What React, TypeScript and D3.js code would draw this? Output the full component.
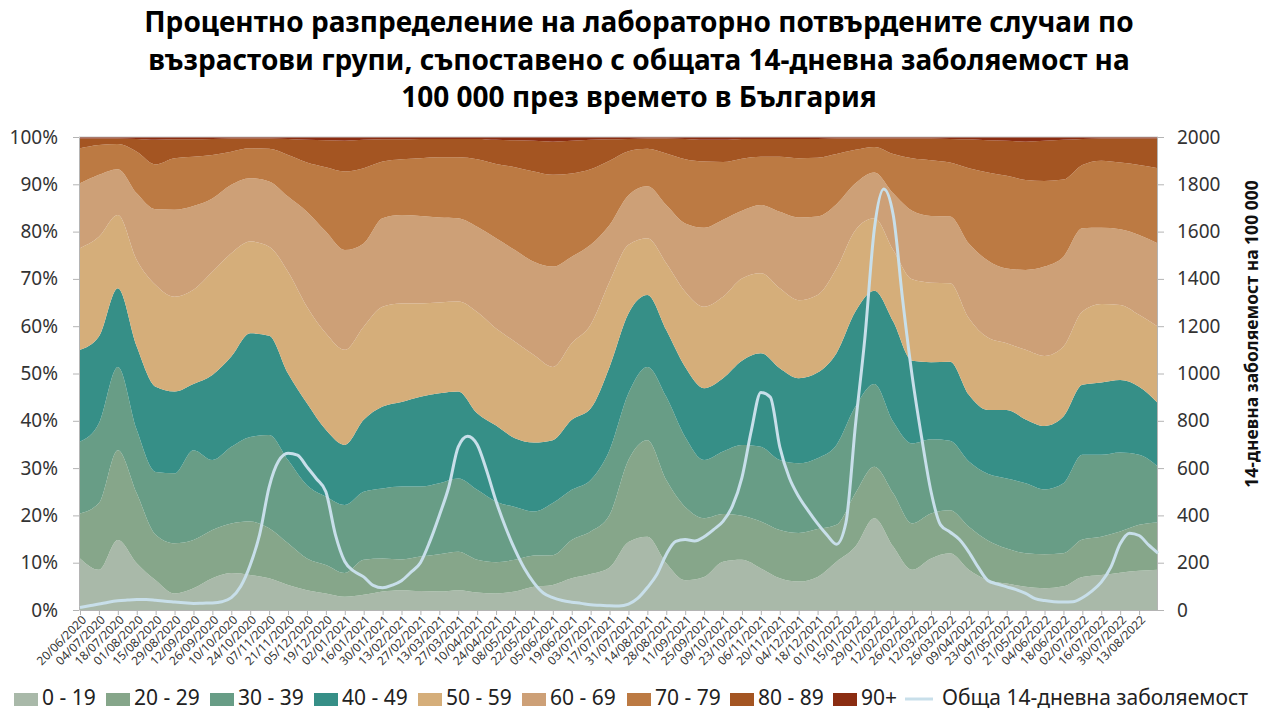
import React, { useEffect, useRef } from 'react'
import * as d3 from 'd3'

const ageGroups = ['0 - 19', '20 - 29', '30 - 39', '40 - 49', '50 - 59', '60 - 69', '70 - 79', '80 - 89', '90+']
const groupColors = ['#a9b9a9', '#86a68a', '#689d86', '#368f87', '#d5ae7a', '#cda077', '#bc7a43', '#a45522', '#8b2d12']
const lineColor = '#c8dfea'
const lineLabel = 'Обща 14-дневна заболяемост'

const titleLines = [
    'Процентно разпределение на лабораторно потвърдените случаи по',
    'възрастови групи, съпоставено с общата 14-дневна заболяемост на',
    '100 000 през времето в България'
]
const rightTitle = '14-дневна заболяемост на 100 000'

// share of confirmed cases (%) for each age group, one value every 14 days from 20/06/2020
const age0_19 = [10.9, 8.5, 14.8, 9.9, 6.3, 3.5, 4.6, 6.7, 7.8, 7.4, 6.7, 5.3, 4.2, 3.5, 2.8, 3.2, 3.9, 4.2, 4.0, 3.9,
    4.2, 3.7, 3.5, 3.9, 4.9, 5.3, 6.7, 7.6, 9.0, 14.4, 15.5, 9.9, 6.3, 7.0, 10.2, 10.6, 8.8, 6.7, 6.0, 7.0,
    10.2, 13.4, 19.4, 13.4, 8.5, 10.9, 12.0, 8.5, 6.3, 5.6, 4.9, 4.6, 5.0, 7.0, 7.4, 7.9, 8.3, 8.5]
const age20_29 = [9.5, 14.1, 19.0, 14.8, 9.6, 10.6, 10.2, 10.2, 10.5, 11.3, 10.6, 8.8, 6.7, 6.0, 5.0, 7.4, 7.0, 6.5, 7.3, 7.9,
    8.1, 6.9, 6.6, 6.7, 6.6, 6.3, 8.1, 9.0, 11.1, 17.3, 20.4, 17.6, 15.5, 12.4, 10.1, 9.3, 9.9, 10.2, 10.3, 10.1,
    7.8, 11.3, 10.9, 11.3, 9.8, 9.5, 9.1, 9.1, 8.4, 7.4, 7.1, 7.2, 7.0, 7.9, 8.1, 8.7, 9.7, 10.0]
const age30_39 = [15.2, 16.9, 17.6, 13.4, 13.3, 14.8, 19.0, 14.8, 16.2, 17.9, 19.7, 17.6, 15.5, 14.5, 14.4, 14.4, 14.8, 15.4, 14.8, 15.0,
    15.5, 14.8, 12.8, 11.2, 9.3, 11.0, 10.6, 10.9, 13.7, 14.1, 15.5, 17.6, 14.8, 12.3, 13.2, 15.0, 15.8, 14.8, 14.7, 15.0,
    16.9, 18.3, 17.5, 15.1, 16.9, 15.7, 14.7, 13.8, 14.1, 14.8, 14.8, 13.7, 14.8, 17.9, 17.3, 16.7, 14.8, 11.8]
const age40_49 = [19.4, 18.3, 16.6, 17.6, 18.0, 17.3, 14.0, 18.0, 19.1, 21.9, 21.0, 18.3, 17.3, 14.1, 12.7, 15.2, 17.3, 17.9, 19.0, 19.0,
    18.4, 16.2, 16.1, 14.5, 14.6, 13.3, 14.8, 15.1, 17.6, 16.9, 15.2, 14.1, 14.8, 15.2, 15.5, 17.8, 19.8, 19.4, 18.0, 18.1,
    19.4, 20.1, 19.7, 21.2, 17.5, 16.3, 16.7, 14.1, 13.5, 14.5, 13.5, 13.4, 14.1, 14.8, 15.3, 15.3, 14.4, 13.4]
const age50_59 = [21.5, 21.1, 15.5, 18.3, 21.5, 20.0, 19.9, 21.8, 21.8, 19.4, 18.8, 21.5, 20.4, 20.4, 20.1, 19.7, 21.1, 20.8, 19.7, 19.2,
    19.0, 21.4, 20.5, 20.4, 18.5, 15.5, 16.2, 17.7, 18.0, 14.5, 12.0, 14.1, 15.9, 17.2, 17.2, 17.4, 16.9, 16.9, 16.5, 16.4,
    17.9, 17.2, 15.3, 15.1, 17.2, 16.8, 16.6, 16.2, 15.3, 14.1, 14.7, 14.8, 14.8, 15.5, 16.6, 15.9, 15.2, 16.2]
const age60_69 = [13.7, 13.1, 9.7, 14.1, 16.0, 18.4, 17.7, 15.5, 14.5, 13.4, 13.8, 15.9, 20.1, 21.5, 21.1, 17.6, 18.7, 18.7, 18.5, 18.0,
    17.6, 18.0, 19.1, 19.4, 19.7, 21.2, 18.3, 16.9, 12.0, 10.5, 11.0, 12.3, 14.4, 16.7, 16.3, 14.3, 14.4, 16.2, 17.5, 16.6,
    13.6, 9.9, 9.7, 12.0, 14.5, 14.1, 14.1, 15.8, 16.3, 15.8, 16.9, 18.9, 19.0, 17.6, 16.1, 16.0, 16.9, 17.6]
const age70_79 = [7.4, 6.3, 5.3, 8.8, 9.5, 10.9, 10.4, 9.2, 7.0, 6.3, 6.9, 8.8, 10.4, 13.6, 16.6, 15.9, 12.0, 11.8, 12.2, 12.7,
    12.9, 14.3, 15.7, 17.5, 19.1, 19.4, 17.6, 16.0, 13.6, 9.3, 7.9, 10.9, 13.6, 14.0, 12.2, 11.0, 10.2, 11.6, 12.5, 12.4,
    10.6, 7.1, 5.4, 8.3, 11.1, 11.8, 11.4, 15.9, 18.6, 19.6, 19.0, 18.1, 16.3, 13.4, 14.2, 14.1, 14.8, 15.9]
const age80_89 = [2.1, 1.4, 1.2, 2.7, 5.2, 4.0, 3.7, 3.4, 2.8, 2.1, 2.2, 3.4, 4.8, 5.7, 6.5, 6.0, 4.7, 4.2, 4.1, 3.9,
    3.9, 4.3, 5.1, 5.7, 6.5, 7.0, 6.9, 6.2, 4.5, 2.6, 2.2, 3.2, 4.3, 4.6, 4.7, 4.2, 3.8, 3.8, 4.1, 4.0,
    3.3, 2.4, 1.8, 3.3, 4.2, 4.6, 5.0, 6.1, 6.8, 7.4, 8.1, 8.5, 8.4, 5.5, 4.7, 5.1, 5.6, 6.3]
const age90plus = [0.3, 0.3, 0.3, 0.4, 0.6, 0.5, 0.5, 0.4, 0.3, 0.3, 0.3, 0.4, 0.6, 0.7, 0.8, 0.6, 0.5, 0.5, 0.4, 0.4,
    0.4, 0.4, 0.6, 0.7, 0.8, 1.0, 0.8, 0.6, 0.5, 0.4, 0.3, 0.3, 0.4, 0.6, 0.6, 0.4, 0.4, 0.4, 0.4, 0.4,
    0.3, 0.3, 0.3, 0.3, 0.3, 0.3, 0.4, 0.5, 0.7, 0.8, 1.0, 0.8, 0.6, 0.4, 0.3, 0.3, 0.3, 0.3]

// 14-day incidence per 100 000, one value every 7 days from 20/06/2020
const incidence = [11, 18, 25, 33, 39, 42, 44, 44, 41, 37,
    34, 31, 28, 29, 30, 35, 52, 100, 190, 320,
    520, 630, 663, 655, 605, 555, 500, 320, 205, 163,
    140, 104, 94, 105, 124, 160, 200, 290, 400, 520,
    690, 735, 700, 590, 460, 350, 255, 175, 115, 72,
    52, 40, 33, 28, 22, 20, 18, 17, 25, 50,
    95, 150, 235, 290, 298, 292, 310, 340, 375, 440,
    560, 760, 920, 900, 690, 560, 480, 420, 365, 317,
    278, 370, 780, 1150, 1610, 1780, 1670, 1310, 990, 730,
    500, 360, 330, 298, 245, 180, 125, 110, 98, 86,
    70, 48, 40, 35, 34, 35, 52, 80, 118, 180,
    280, 325, 315, 275, 240]

const groupSeries = [age0_19, age20_29, age30_39, age40_49, age50_59, age60_69, age70_79, age80_89, age90plus]
const startDate = new Date(Date.UTC(2020, 5, 20))
const lastTickDate = new Date(Date.UTC(2022, 7, 13))

export default function App() {
    const ref = useRef<SVGSVGElement>(null)

    useEffect(() => {
        const svg = d3.select(ref.current)
        svg.selectAll('*').remove()

        const font = '"Noto Sans", sans-serif'
        const left = 80, right = 1158, top = 137, bottom = 610

        const areaDates = groupSeries[0].map((_, i) => d3.utcDay.offset(startDate, 14 * i))
        const lineDates = incidence.map((_, i) => d3.utcDay.offset(startDate, 7 * i))
        const table = areaDates.map((date, i) => {
            const row: any = { date }
            ageGroups.forEach((g, k) => { row[g] = groupSeries[k][i] })
            return row
        })

        const x = d3.scaleUtc().domain([areaDates[0], areaDates[areaDates.length - 1]]).range([left, right])
        const y = d3.scaleLinear().domain([0, 1]).range([bottom, top])
        const y2 = d3.scaleLinear().domain([0, 2000]).range([bottom, top])

        const stacked = d3.stack().keys(ageGroups).offset(d3.stackOffsetExpand)(table)

        const area = d3.area<any>()
            .x(d => x(d.data.date))
            .y0(d => y(d[0]))
            .y1(d => y(d[1]))
            .curve(d3.curveMonotoneX)

        svg.append('g')
            .selectAll('path')
            .data(stacked)
            .enter()
            .append('path')
            .attr('d', area)
            .attr('fill', (d, i) => groupColors[i])

        // plot frame top
        svg.append('line')
            .attr('x1', left - 1).attr('x2', right)
            .attr('y1', top).attr('y2', top)
            .attr('stroke', '#c8c8c8')

        const styleAxis = (g, size) => {
            g.select('.domain').attr('stroke', '#b4b4b4')
            g.selectAll('.tick line').attr('stroke', '#b4b4b4')
            g.selectAll('text').attr('font-family', font).attr('font-size', size).attr('fill', '#333')
        }

        const gl = svg.append('g')
            .attr('transform', `translate(${left - 1},0)`)
            .call(d3.axisLeft(y).tickValues(d3.range(0, 11).map(v => v / 10)).tickFormat(d3.format('.0%')).tickSize(6).tickPadding(15).tickSizeOuter(0))
        styleAxis(gl, 19)

        const gr = svg.append('g')
            .attr('transform', `translate(${right - 1},0)`)
            .call(d3.axisRight(y2).tickValues(d3.range(0, 2001, 200)).tickFormat(d3.format('d')).tickSize(7).tickPadding(13).tickSizeOuter(0))
        styleAxis(gr, 19)

        const tickDates = d3.utcDay.range(startDate, d3.utcDay.offset(lastTickDate, 1), 14)
        const gb = svg.append('g')
            .attr('transform', `translate(0,${bottom})`)
            .call(d3.axisBottom(x).tickValues(tickDates).tickFormat(d3.utcFormat('%d/%m/%Y')).tickSize(5).tickSizeOuter(0))
        styleAxis(gb, 12)
        gb.selectAll('text')
            .attr('text-anchor', 'end')
            .attr('x', -3)
            .attr('y', 8)
            .attr('dy', '0.35em')
            .attr('transform', 'rotate(-45)')

        const line = d3.line<number>()
            .x((d, i) => x(lineDates[i]))
            .y(d => y2(d))
            .curve(d3.curveMonotoneX)

        svg.append('path')
            .datum(incidence)
            .attr('d', line)
            .attr('fill', 'none')
            .attr('stroke', lineColor)
            .attr('stroke-width', 3)
            .attr('stroke-linejoin', 'round')

        // title
        svg.append('g')
            .selectAll('text')
            .data(titleLines)
            .enter()
            .append('text')
            .attr('x', 639)
            .attr('y', (d, i) => 32 + i * 37.5)
            .attr('text-anchor', 'middle')
            .attr('font-family', font)
            .attr('font-weight', 'bold')
            .attr('font-size', 28)
            .attr('fill', '#000')
            .text(d => d)

        svg.append('text')
            .attr('transform', 'translate(1252,334) rotate(-90)')
            .attr('text-anchor', 'middle')
            .attr('dy', '0.35em')
            .attr('font-family', font)
            .attr('font-weight', 'bold')
            .attr('font-size', 17.5)
            .attr('fill', '#111')
            .text(rightTitle)

        // legend
        const legendX = [14, 106, 210, 314, 418, 522, 627, 730, 833]
        const legend = svg.append('g')
        ageGroups.forEach((g, i) => {
            legend.append('rect')
                .attr('x', legendX[i]).attr('y', 693)
                .attr('width', 24).attr('height', 13)
                .attr('fill', groupColors[i])
            legend.append('text')
                .attr('x', legendX[i] + 28).attr('y', 705)
                .attr('font-family', font)
                .attr('font-size', 21)
                .attr('fill', '#222')
                .text(g)
        })
        legend.append('line')
            .attr('x1', 905).attr('x2', 933)
            .attr('y1', 699).attr('y2', 699)
            .attr('stroke', lineColor)
            .attr('stroke-width', 3)
        legend.append('text')
            .attr('x', 942).attr('y', 705)
            .attr('font-family', font)
            .attr('font-size', 21)
            .attr('fill', '#222')
            .text(lineLabel)
    }, [])

    return (
        <svg ref={ref} width={1278} height={711} style={{ position: 'absolute', left: 0, top: 0, background: '#fff' }} />
    )
}
